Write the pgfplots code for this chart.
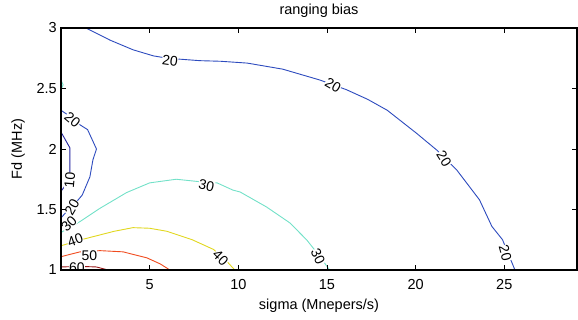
\documentclass[border=0pt]{standalone}
\usepackage{fontspec}
\setmainfont{Liberation Sans}
\usepackage{pgfplots}
\pgfplotsset{compat=1.18}
\definecolor{c10}{RGB}{35,35,160}
\definecolor{c20}{RGB}{45,75,190}
\definecolor{c30}{RGB}{115,225,200}
\definecolor{c40}{RGB}{225,215,30}
\definecolor{c50}{RGB}{240,75,30}
\definecolor{c60}{RGB}{150,20,20}
\begin{document}
\fontsize{14.5}{17}\selectfont
\begin{tikzpicture}
\begin{axis}[
 scale only axis, width=516pt, height=242pt,
 at={(0,0)}, anchor=south west,
 xmin=0, xmax=29.1, ymin=1, ymax=3,
 xtick={5,10,15,20,25}, ytick={1,1.5,2,2.5,3},
 xticklabels={5,10,15,20,25}, yticklabels={1,1.5,2,2.5,3},
 tick align=inside, major tick length=5pt,
 axis line style={line width=1.4pt},
 every tick/.style={black, line width=0.8pt},
 /pgf/number format/assume math mode=true,
 tick label style={font=\fontsize{14.5}{17}\selectfont},
 xticklabel style={anchor=base, yshift=-20pt, inner sep=0pt},
 yticklabel style={anchor=east, xshift=-4pt, inner sep=0pt},
 title={ranging bias}, title style={at={(0.5,1)}, anchor=base, yshift=7pt, inner sep=0pt},
 xlabel={sigma (Mnepers/s)}, xlabel style={at={(0.5,0)}, anchor=base, yshift=-40pt, inner sep=0pt},
 ylabel={Fd (MHz)},
 every axis y label/.style={at={(0,0.5)}, anchor=base, rotate=90, yshift=39pt, inner sep=0pt},
 every axis plot/.append style={line width=0.9pt},
 axis on top,
]
\addplot[c20] coordinates {(1.41,3.0) (2.76,2.90) (4.06,2.82) (5.2,2.77) (6.0,2.75) (7.83,2.73) (9.0,2.725) (10.5,2.71) (12.5,2.66) (14.6,2.57) (16.1,2.49) (17.3,2.41) (18.4,2.32) (20.05,2.13) (21.2,1.99) (22.3,1.83) (23.6,1.58) (24.3,1.36) (24.9,1.25) (25.6,1.0)};
\addplot[c20] coordinates {(0,2.32) (0.5,2.27) (1.07,2.2) (1.5,2.16) (2.0,2.0) (1.8,1.91) (1.63,1.77) (1.2,1.62) (0.8,1.55) (0.3,1.48) (0,1.43)};
\addplot[c10] coordinates {(0,2.14) (0.5,2.01) (0.5,1.81) (0.45,1.76) (0.25,1.70) (0,1.65)};
\addplot[c30] coordinates {(0,2.57) (0.12,2.53) (0,2.49)};
\addplot[c30] coordinates {(0,1.31) (1.07,1.40) (2.2,1.51) (3.7,1.64) (5.0,1.72) (6.5,1.75) (7.8,1.73) (8.8,1.72) (9.7,1.66) (10.1,1.645) (11.6,1.52) (12.9,1.39) (13.85,1.25) (14.5,1.13) (15.15,1.0)};
\addplot[c40] coordinates {(0,1.2) (1.0,1.245) (2.2,1.29) (3.0,1.32) (4.06,1.35) (5.0,1.345) (5.97,1.32) (7.4,1.25) (8.6,1.17) (9.3,1.08) (9.8,1.0)};
\addplot[c50] coordinates {(0,1.11) (1.07,1.15) (2.2,1.16) (3.5,1.15) (4.85,1.10) (5.6,1.05) (6.14,1.0)};
\addplot[c60] coordinates {(0,1.025) (1.07,1.03) (2.0,1.025) (2.65,1.0)};
\begin{scope}[every node/.style={fill=white, inner sep=0.3pt, font=\fontsize{14}{17}\selectfont}]
\node[rotate=-8] at (axis cs:6.15,2.73) {20};
\node[rotate=-30] at (axis cs:15.34,2.53) {20};
\node[rotate=-58] at (axis cs:21.6,1.92) {20};
\node[rotate=-75] at (axis cs:25.05,1.14) {20};
\node[rotate=-40] at (axis cs:0.65,2.24) {20};
\node[rotate=60] at (axis cs:0.62,1.52) {20};
\node[rotate=85] at (axis cs:0.5,1.74) {10};
\node[rotate=45] at (axis cs:0.45,1.38) {30};
\node[rotate=-12] at (axis cs:8.2,1.70) {30};
\node[rotate=-65] at (axis cs:14.5,1.11) {30};
\node[rotate=20] at (axis cs:0.8,1.245) {40};
\node[rotate=-45] at (axis cs:9.0,1.10) {40};
\node[rotate=0] at (axis cs:1.6,1.12) {50};
\node[rotate=0] at (axis cs:0.9,1.02) {60};
\end{scope}
\end{axis}
\pgfresetboundingbox
\path (-61pt,-50pt) rectangle (517pt,270pt);
\end{tikzpicture}
\end{document}
